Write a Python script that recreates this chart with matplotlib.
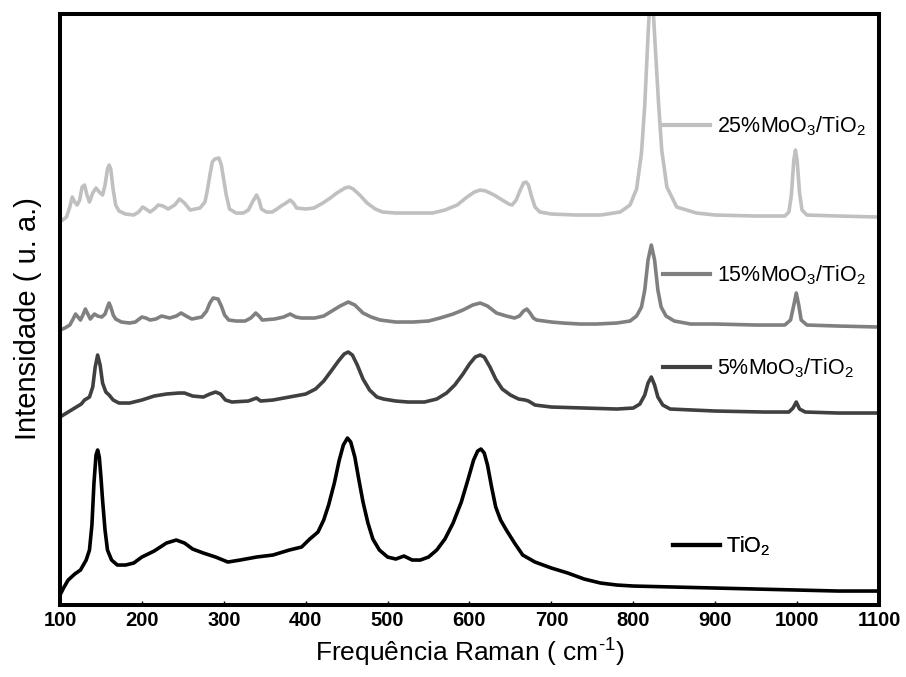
import matplotlib
matplotlib.use('Agg')
import matplotlib.pyplot as plt
from matplotlib.lines import Line2D

plt.rcParams['font.family'] = ['Liberation Sans', 'DejaVu Sans']
plt.rcParams['mathtext.fontset'] = 'custom'
plt.rcParams['mathtext.rm'] = 'Liberation Sans'
plt.rcParams['mathtext.it'] = 'Liberation Sans:italic'
plt.rcParams['mathtext.bf'] = 'Liberation Sans:bold'

# Raman spectra (intensity in arbitrary units, offset per sample)
x_tio2 = [100, 105, 110, 118, 125, 132, 136, 139, 141.5, 144, 146, 148, 150, 152, 155, 158, 163, 170,
          180, 190, 200, 215, 230, 242, 252, 262, 275, 290, 305, 320, 340, 360, 380, 395, 405, 415,
          422, 428, 435, 441, 446, 451, 455, 460, 465, 470, 476, 482, 490, 500, 510, 520, 530, 540,
          550, 560, 570, 580, 590, 598, 605, 610, 614, 618, 622, 627, 632, 638, 645, 655, 665, 680,
          700, 720, 740, 760, 780, 800, 850, 900, 950, 1000, 1050, 1100]
y_tio2 = [10, 18, 25, 31, 35, 45, 55, 80, 122, 150, 155, 148, 128, 105, 75, 55, 45, 40,
          40, 42, 48, 54, 62, 65, 62, 56, 52, 48, 43, 45, 48, 50, 55, 58, 66, 73,
          85, 100, 122, 145, 160, 167, 163, 148, 125, 103, 82, 66, 55, 48, 46, 49, 45, 45,
          48, 55, 66, 82, 103, 125, 145, 154, 156, 152, 140, 118, 98, 85, 75, 62, 50, 43,
          37, 32, 26, 22, 20, 19, 18, 17, 16, 15, 14, 14]

x_5 = [100, 110, 120, 126, 130, 136, 140, 143, 146, 149, 152, 156, 160, 165, 172, 185, 200, 215,
       230, 245, 252, 262, 275, 283, 290, 296, 302, 310, 330, 340, 345, 360, 380, 400, 412, 422,
       432, 440, 447, 452, 457, 463, 470, 478, 487, 495, 510, 525, 545, 560, 572, 582, 592, 600,
       607, 613, 618, 625, 632, 640, 650, 660, 668, 672, 680, 700, 740, 780, 800, 808, 814, 818,
       822, 826, 830, 836, 845, 900, 960, 990, 995, 999, 1003, 1010, 1050, 1100]
y_5 = [188, 193, 198, 201, 205, 208, 218, 238, 250, 240, 222, 213, 210, 205, 202, 202, 205, 209,
       211, 212, 212, 209, 208, 211, 213, 211, 205, 203, 204, 207, 204, 205, 208, 211, 216, 224,
       235, 244, 251, 253, 250, 240, 226, 215, 208, 206, 204, 203, 203, 206, 212, 220, 231, 241,
       248, 250, 248, 238, 226, 216, 210, 206, 205, 204, 200, 198, 197, 196, 197, 201, 210, 222,
       228, 220, 208, 200, 196, 194, 193, 193, 197, 203, 196, 193, 192, 192]

x_15 = [100, 106, 112, 116, 119, 122, 125, 128, 131, 134, 137, 140, 142, 146, 151, 155, 158, 160,
        162, 165, 168, 175, 185, 192, 200, 205, 210, 217, 224, 234, 242, 248, 254, 261, 273, 279,
        283, 287, 293, 297, 301, 306, 315, 326, 333, 339, 343, 347, 362, 373, 381, 388, 395, 411,
        422, 432, 442, 452, 460, 470, 480, 491, 510, 531, 550, 564, 580, 592, 604, 613, 622, 633,
        645, 655, 661, 666, 670, 674, 678, 682, 700, 714, 735, 755, 780, 796, 804, 810, 814, 818,
        822, 826, 830, 834, 840, 850, 870, 900, 950, 985, 992, 996, 999, 1002, 1005, 1012, 1050, 1100]
y_15 = [275, 277, 280, 286, 291, 288, 285, 290, 296, 291, 286, 289, 291, 289, 288, 291, 298, 302,
        298, 290, 286, 283, 282, 283, 288, 287, 285, 286, 289, 287, 289, 292, 289, 286, 288, 294,
        302, 307, 306, 299, 290, 285, 284, 284, 287, 292, 289, 285, 286, 288, 291, 288, 287, 287,
        289, 294, 299, 303, 300, 292, 288, 285, 283, 283, 284, 287, 291, 295, 300, 302, 299, 292,
        289, 287, 289, 294, 296, 292, 287, 285, 283, 282, 281, 281, 282, 284, 289, 298, 315, 345,
        360, 345, 315, 298, 289, 284, 281, 281, 280, 280, 285, 300, 312, 300, 285, 280, 279, 278]

x_25 = [100, 108, 112, 115, 118, 121, 124, 127, 130, 133, 136, 140, 144, 148, 152, 155, 158, 160,
        162, 165, 168, 172, 180, 190, 196, 201, 205, 210, 215, 220, 226, 232, 240, 246, 252, 259,
        271, 277, 280, 283, 286, 289, 294, 297, 300, 303, 307, 315, 324, 330, 335, 340, 343, 346,
        352, 359, 365, 370, 376, 381, 385, 389, 400, 410, 421, 430, 438, 448, 453, 458, 466, 475,
        485, 494, 510, 530, 555, 570, 585, 597, 606, 613, 620, 630, 640, 648, 652, 657, 662, 666,
        669, 672, 676, 680, 686, 700, 730, 760, 784, 796, 804, 810, 814, 818, 820, 822, 824, 826,
        830.6, 834.7, 841, 853, 877, 900, 950, 985, 990, 993, 996, 998, 1000, 1003, 1006, 1012,
        1050, 1100]
y_25 = [383, 388, 398, 408, 403, 400, 405, 418, 420, 410, 403, 412, 417, 413, 410, 420, 436, 440,
        436, 415, 400, 394, 391, 390, 393, 398, 396, 393, 396, 400, 399, 396, 400, 406, 402, 395,
        397, 403, 415, 430, 443, 446, 447, 440, 425, 410, 396, 392, 392, 395, 403, 410, 405, 396,
        393, 393, 396, 399, 402, 405, 402, 397, 396, 397, 402, 407, 412, 417, 418, 416, 410, 402,
        396, 393, 392, 392, 392, 395, 400, 408, 413, 415, 414, 410, 405, 401, 400, 405, 415, 422,
        423, 420, 408, 398, 393, 391, 390, 390, 393, 400, 416, 452, 500, 570, 600, 615, 600, 570,
        505, 455, 418, 398, 392, 390, 389, 389, 393, 410, 445, 455, 445, 412, 395, 390,
        389, 388]

series = [
    (x_25, y_25, '#c0c0c0', r'25%MoO$_3$/TiO$_2$'),
    (x_15, y_15, '#808080', r'15%MoO$_3$/TiO$_2$'),
    (x_5, y_5, '#404040', r'5%MoO$_3$/TiO$_2$'),
    (x_tio2, y_tio2, '#000000', r'TiO$_2$'),
]
label_pos = [(0.736, 0.81), (0.736, 0.558), (0.736, 0.401), (0.748, 0.099)]

fig = plt.figure(figsize=(9.06, 6.77), dpi=100)
ax = fig.add_axes([0.0662, 0.1063, 0.904, 0.873])

for xs, ys, col, lab in series:
    ax.plot(xs, ys, color=col, lw=2.6, solid_joinstyle='round')

# one small legend per trace, placed next to it
for (xs, ys, col, lab), (lx, ly) in zip(series, label_pos):
    h = Line2D([], [], color=col, lw=3)
    leg = ax.legend([h], [lab], loc='center left', bbox_to_anchor=(lx, ly),
                    frameon=False, fontsize=15.5, handlelength=2.2, handletextpad=0.3,
                    borderpad=0, borderaxespad=0)
    ax.add_artist(leg)

ax.set_xlim(100, 1100)
ax.set_ylim(0, 591)
ax.set_xticks(range(100, 1101, 100))
ax.set_yticks([])
for lbl in ax.get_xticklabels():
    lbl.set_fontweight('bold')
ax.tick_params(axis='x', direction='in', length=3, width=1, labelsize=14.5, pad=4)
for sp in ax.spines.values():
    sp.set_linewidth(2.9)

ax.set_xlabel(r'Frequência Raman ( cm$^{\text{-1}}$)', fontsize=19, labelpad=5)
ax.set_ylabel('Intensidade ( u. a.)', fontsize=21)
ax.yaxis.set_label_coords(-0.022, 0.484)

fig.savefig('out.png', dpi=100)
